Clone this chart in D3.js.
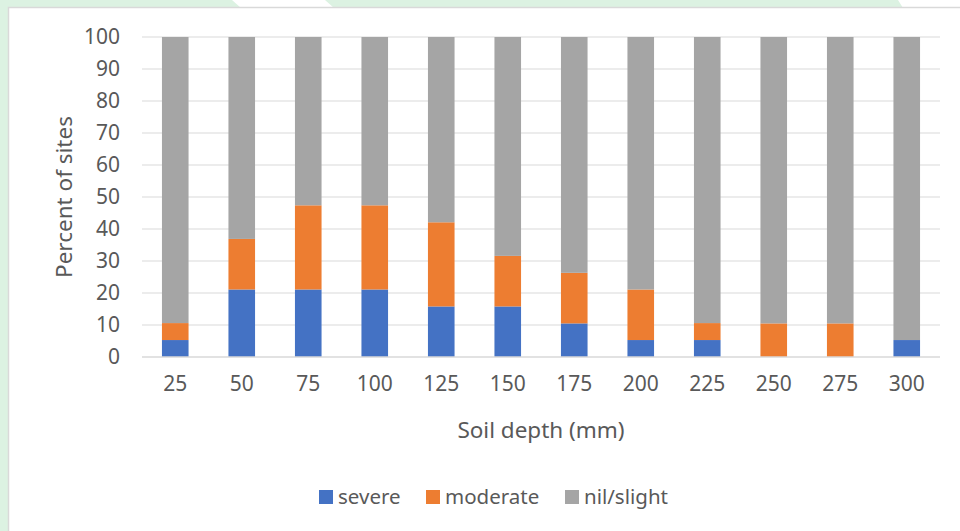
<!DOCTYPE html>
<html>
<head>
<meta charset="utf-8">
<script src="https://cdn.jsdelivr.net/npm/d3@7"></script>
<style>
  body { margin: 0; background: #fff; }
  text { font-family: "Noto Sans", "Open Sans", sans-serif; fill: #595959; }
</style>
</head>
<body>
<div id="chart"></div>
<script>
const depths = ['25', '50', '75', '100', '125', '150', '175', '200', '225', '250', '275', '300'];
const severe = [5.3, 21.1, 21.1, 21.1, 15.8, 15.8, 10.5, 5.3, 5.3, 0, 0, 5.3];
const moderate = [5.3, 15.8, 26.3, 26.3, 26.3, 15.8, 15.8, 15.8, 5.3, 10.5, 10.5, 0];
const nilSlight = [89.4, 63.1, 52.6, 52.6, 57.9, 68.4, 73.7, 78.9, 89.4, 89.5, 89.5, 94.7];
const seriesNames = ['severe', 'moderate', 'nil/slight'];
const colors = ['#4472c4', '#ed7d31', '#a5a5a5'];
const yTicks = [0, 10, 20, 30, 40, 50, 60, 70, 80, 90, 100];

const fullWidth = 960;
const fullHeight = 531;
const plot = { left: 142, right: 940, top: 37, bottom: 357 };

const svg = d3.select('#chart')
  .append('svg')
  .attr('width', fullWidth)
  .attr('height', fullHeight);

// green page decoration behind the chart box
const green = '#dcf2e2';
svg.append('rect').attr('x', 0).attr('y', 0).attr('width', 9).attr('height', fullHeight).attr('fill', green);
svg.append('path')
  .attr('d', 'M0,0 L232,0 L241,8 L0,8 Z M325,0 L898,0 L903,8 L334,8 Z')
  .attr('fill', green);

// chart box
svg.append('rect')
  .attr('x', 8.5).attr('y', 7.5)
  .attr('width', fullWidth).attr('height', fullHeight)
  .attr('fill', '#fff')
  .attr('stroke', '#d9d9d9')
  .attr('stroke-width', 1.5);

const table = depths.map((d, i) => ({
  depth: d,
  'severe': severe[i],
  'moderate': moderate[i],
  'nil/slight': nilSlight[i]
}));
const stacked = d3.stack().keys(seriesNames)(table);

const xScale = d3.scaleBand()
  .domain(depths)
  .range([plot.left, plot.right])
  .paddingInner(0.6)
  .paddingOuter(0.3);

const yScale = d3.scaleLinear()
  .domain([0, 100])
  .range([plot.bottom, plot.top]);

// gridlines
svg.append('g')
  .selectAll('line')
  .data(yTicks.slice(1))
  .enter()
  .append('line')
  .attr('x1', plot.left)
  .attr('x2', plot.right)
  .attr('y1', d => yScale(d))
  .attr('y2', d => yScale(d))
  .attr('stroke', '#d9d9d9')
  .attr('stroke-width', 1);

// bars
svg.append('g')
  .selectAll('g')
  .data(stacked)
  .enter()
  .append('g')
  .attr('fill', (d, i) => colors[i])
  .selectAll('rect')
  .data(d => d)
  .enter()
  .append('rect')
  .attr('x', d => xScale(d.data.depth))
  .attr('y', d => yScale(d[1]))
  .attr('width', xScale.bandwidth())
  .attr('height', d => yScale(d[0]) - yScale(d[1]));

// baseline
svg.append('line')
  .attr('x1', plot.left).attr('x2', plot.right)
  .attr('y1', yScale(0)).attr('y2', yScale(0))
  .attr('stroke', '#d9d9d9')
  .attr('stroke-width', 1.5);

// y axis
const yAxis = d3.axisLeft(yScale).tickValues(yTicks).tickSize(0).tickPadding(22);
const yG = svg.append('g')
  .attr('transform', `translate(${plot.left}, 0)`)
  .call(yAxis);
yG.select('.domain').remove();
yG.selectAll('text').style('font-size', '21px').attr('fill', '#595959');

// x axis
const xAxis = d3.axisBottom(xScale).tickSize(0).tickPadding(19);
const xG = svg.append('g')
  .attr('transform', `translate(0, ${plot.bottom})`)
  .call(xAxis);
xG.select('.domain').remove();
xG.selectAll('text').style('font-size', '21px').attr('fill', '#595959');

// axis titles
svg.append('text')
  .attr('x', (plot.left + plot.right) / 2)
  .attr('y', 438)
  .attr('text-anchor', 'middle')
  .style('font-size', '22.5px')
  .text('Soil depth (mm)');

svg.append('text')
  .attr('transform', `translate(72, ${(plot.top + plot.bottom) / 2}) rotate(-90)`)
  .attr('text-anchor', 'middle')
  .style('font-size', '22.5px')
  .text('Percent of sites');

// legend
const legendX = [319, 426, 565];
const legend = svg.append('g')
  .selectAll('g')
  .data(seriesNames)
  .enter()
  .append('g')
  .attr('transform', (d, i) => `translate(${legendX[i]}, 490)`);

legend.append('rect')
  .attr('width', 14)
  .attr('height', 14)
  .attr('fill', (d, i) => colors[i]);

legend.append('text')
  .attr('x', 19)
  .attr('y', 14)
  .style('font-size', '20.5px')
  .text(d => d);
</script>
</body>
</html>
